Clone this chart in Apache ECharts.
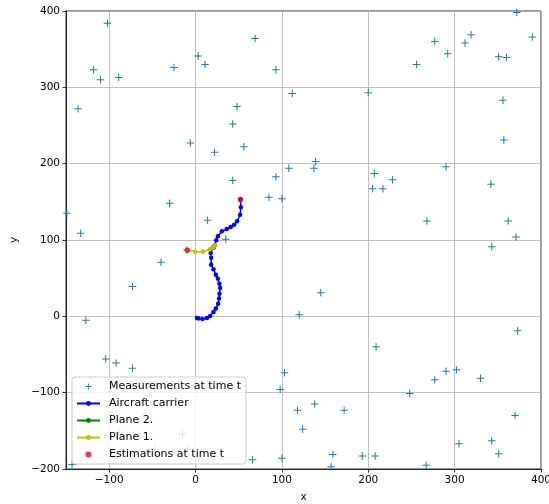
<!DOCTYPE html>
<html><head><meta charset="utf-8">
<script src="https://cdn.jsdelivr.net/npm/echarts@6/dist/echarts.min.js"></script>
<style>html,body{margin:0;padding:0;background:#fff}#c{width:549px;height:504px}</style>
</head><body><div id="c"></div>
<script>
const measX = [-102,-118,-110,-89,-25,3,11,69,93,-136,112,48,43,-6,22,56,108,372,319,390,277,312,292,256,351,360,200,356,357,139,137,290,-149,-133,-30,43,93,85,100,14,35,-10,-40,-73,-127,120,207,228,205,217,342,268,362,371,343,145,373,-104,-92,-73,103,98,118,124,-89,-15,-47,-9,-143,66,100,209,277,290,302,330,248,138,172,370,343,305,351,159,193,208,157,267];
const measY = [384,323,310,313,326,341,330,364,323,272,292,275,252,227,215,222,194,398,369,366,360,358,344,330,340,339,293,283,231,203,194,196,135,109,148,178,183,156,154,126,101,87,71,39,-5,2,187,179,167,167,173,125,125,104,91,31,-19,-56,-61,-68,-74,-96,-123,-148,-152,-154,-174,-174,-194,-188,-186,-40,-83,-72,-70,-81,-101,-115,-123,-130,-163,-167,-180,-181,-183,-183,-197,-195];
const carrierX = [1.6,3.5,8.1,13.2,17,20.8,23.5,26.2,27.3,27.7,28.5,27.7,25.8,23.5,20.8,18.1,18.1,17.5,20.8,23.9,25.8,30.5,36.2,40.8,44.7,48.1,51.6,52.5,52];
const carrierY = [-2.2,-3,-3.5,-2.2,0.4,5.6,10.1,16.6,23.2,29.7,37.1,42.8,49.4,54.6,61.6,67.7,76.9,83,90,99.6,104.8,111.4,114.4,117,120,124.5,133,143,153];
const plane2X = [22.4,21,20];
const plane2Y = [93,91.5,90];
const plane1X = [22.4,21,20,18,16.2,8.7,-0.5,-9.5];
const plane1Y = [93,91.5,90,89,87.4,84.5,84.7,86.5];
const estX = [52,-9.5];
const estY = [153,86.5];
const xTicks = [-100,0,100,200,300,400];
const yTicks = [-200,-100,0,100,200,300,400];

const zip = (a,b) => a.map((v,i)=>[v,b[i]]);
const plus = 'path://M2.6,0 H3.4 V2.6 H6 V3.4 H3.4 V6 H2.6 V3.4 H0 V2.6 H2.6 Z';
const font = 'DejaVu Sans';
const fmt = v => (v<0 ? '\u2212' + Math.abs(v) : String(v));
const chart = echarts.init(document.getElementById('c'), null, {renderer:'canvas'});
chart.setOption({
  animation: false,
  textStyle: {fontFamily: font},
  grid: {left:66, right:8, top:11, bottom:35, containLabel:false, outerBoundsMode:'none',
    show:true, borderColor:'#000', borderWidth:0.8, backgroundColor:'transparent'},
  xAxis: {
    type:'value', min:-150, max:400, interval:50,
    name:'x', nameLocation:'middle', nameGap:23,
    nameTextStyle:{color:'#000', fontSize:10.5, fontFamily:font},
    axisLine:{show:true, onZero:false, lineStyle:{color:'#000', width:0.8}},
    axisTick:{show:true, length:3.5, customValues:xTicks, lineStyle:{color:'#000', width:0.8}},
    axisLabel:{show:true, customValues:xTicks, margin:6, color:'#000', fontSize:10.5, fontFamily:font, formatter: fmt},
    splitLine:{show:true, customValues:xTicks, lineStyle:{color:'#b0b0b0', width:0.8}}
  },
  yAxis: {
    type:'value', min:-200, max:400, interval:100,
    name:'y', nameLocation:'middle', nameGap:41,
    nameTextStyle:{color:'#000', fontSize:10.5, fontFamily:font},
    axisLine:{show:true, onZero:false, lineStyle:{color:'#000', width:0.8}},
    axisTick:{show:true, length:3.5, customValues:yTicks, lineStyle:{color:'#000', width:0.8}},
    axisLabel:{margin:6, customValues:yTicks, color:'#000', fontSize:10.5, fontFamily:font, formatter: fmt},
    splitLine:{show:true, lineStyle:{color:'#b0b0b0', width:0.8}}
  },
  legend: {
    orient:'vertical', left:72, top:377, padding:[3,5,3,4],
    itemWidth:23, itemHeight:6, itemGap:4,
    borderColor:'#cccccc', borderWidth:1, borderRadius:3,
    backgroundColor:'rgba(255,255,255,0.8)',
    textStyle:{color:'#000', fontSize:11, lineHeight:13, fontFamily:font, padding:[0,0,0,4]},
    data:[
      {name:'Measurements at time t'},
      {name:'Aircraft carrier'},
      {name:'Plane 2.'},
      {name:'Plane 1.'},
      {name:'Estimations at time t'}
    ]
  },
  series: [
    {name:'Measurements at time t', type:'scatter', data:zip(measX,measY), symbol:plus, symbolSize:7.5,
      itemStyle:{color:'#1f77b4', opacity:1}, z:2},
    {name:'Aircraft carrier', type:'line', data:zip(carrierX,carrierY), symbol:'circle', symbolSize:4.5, showSymbol:true,
      lineStyle:{color:'#0000ff', width:1.5}, itemStyle:{color:'#0000ff'}, z:3},
    {name:'Plane 2.', type:'line', data:zip(plane2X,plane2Y), symbol:'circle', symbolSize:4.5,
      lineStyle:{color:'#008000', width:1.5}, itemStyle:{color:'#008000'}, z:3},
    {name:'Plane 1.', type:'line', data:zip(plane1X,plane1Y), symbol:'circle', symbolSize:4.5,
      lineStyle:{color:'#bfbf00', width:1.5}, itemStyle:{color:'#bfbf00'}, z:4},
    {name:'Estimations at time t', type:'scatter', data:zip(estX,estY), symbol:'circle', symbolSize:5.5,
      itemStyle:{color:'#ff0000'}, z:5}
  ]
});
</script>
</body></html>
